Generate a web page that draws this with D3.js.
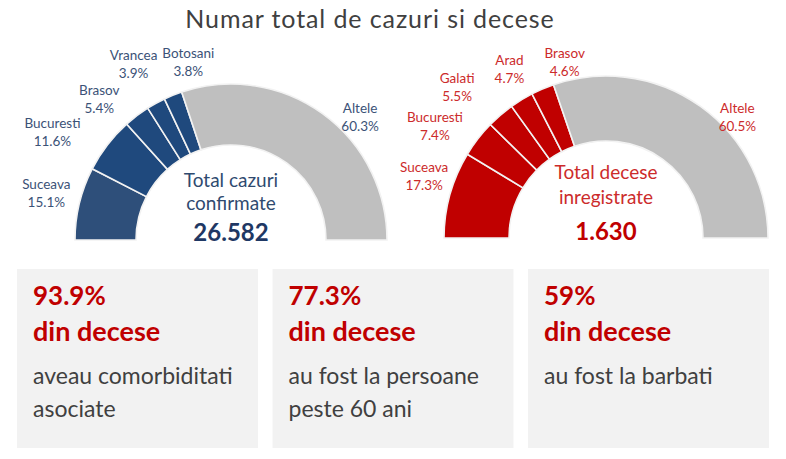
<!DOCTYPE html>
<html>
<head>
    <meta charset="utf-8">
    <script src="https://d3js.org/d3.v7.min.js"></script>
    <style>
        body {
            margin: 0;
            background: #fff;
            font-family: Lato, "Open Sans", sans-serif;
        }
    </style>
</head>
<body>
    <svg width="786" height="459"></svg>
    <script>
        // data
        const casesRegions = ["Suceava", "Bucuresti", "Brasov", "Vrancea", "Botosani", "Altele"];
        const casesShares = [15.1, 11.6, 5.4, 3.9, 3.8, 60.3];
        const deathsRegions = ["Suceava", "Bucuresti", "Galati", "Arad", "Brasov", "Altele"];
        const deathsShares = [17.3, 7.4, 5.5, 4.7, 4.6, 60.5];
        const totalCases = "26.582";
        const totalDeaths = "1.630";
        const factValues = ["93.9%", "77.3%", "59%"];
        const factTexts = [["aveau comorbiditati", "asociate"], ["au fost la persoane", "peste 60 ani"], ["au fost la barbati"]];

        const svg = d3.select("svg");

        svg.append("text")
            .attr("x", 370)
            .attr("y", 28)
            .attr("text-anchor", "middle")
            .style("font-size", "25px")
            .style("letter-spacing", "0.9px")
            .style("fill", "#404040")
            .text("Numar total de cazuri si decese");

        const pie = d3.pie()
            .sort(null)
            .value(d => d.value)
            .startAngle(-Math.PI / 2)
            .endAngle(Math.PI / 2);

        // label nudges (layout only), relative to the label arc centroid
        const casesNudge = [[0, -2], [-28, 8], [-17, 10], [-6, -9], [28, -2], [18, 31]];
        const deathsNudge = [[6, -10], [-17, 8], [-22, -3], [5, -3], [35, 3], [18, 38]];

        function halfDonut(opt) {
            const data = opt.regions.map((r, i) => ({ region: r, value: opt.shares[i] }));
            const g = svg.append("g")
                .attr("transform", `translate(${opt.cx},${opt.cy})`);

            const arc = d3.arc().innerRadius(opt.inner).outerRadius(opt.outer);
            const labelArc = d3.arc().innerRadius(opt.labelR).outerRadius(opt.labelR);
            const arcs = pie(data);

            g.selectAll("path")
                .data(arcs)
                .join("path")
                .attr("d", arc)
                .attr("fill", (d, i) => opt.fills[i])
                .attr("stroke", "#f2f2f2")
                .attr("stroke-width", 1.6);

            const lab = g.selectAll("text.lab")
                .data(arcs)
                .join("text")
                .attr("class", "lab")
                .attr("text-anchor", "middle")
                .attr("transform", (d, i) => {
                    const c = labelArc.centroid(d);
                    return `translate(${c[0] + opt.nudge[i][0]},${c[1] + opt.nudge[i][1]})`;
                })
                .style("font-size", "13.5px")
                .style("fill", opt.labelColor);
            lab.append("tspan").attr("x", 0).attr("y", -4).text(d => d.data.region);
            lab.append("tspan").attr("x", 0).attr("y", 14).text(d => d3.format(".1f")(d.data.value) + "%");

            g.append("text")
                .attr("text-anchor", "middle")
                .attr("y", opt.lineY[0])
                .style("font-size", "19px")
                .style("fill", opt.textColor)
                .text(opt.line1);
            g.append("text")
                .attr("text-anchor", "middle")
                .attr("y", opt.lineY[1])
                .style("font-size", "19px")
                .style("fill", opt.textColor)
                .text(opt.line2);
            g.append("text")
                .attr("text-anchor", "middle")
                .attr("y", opt.lineY[2])
                .style("font-size", "24px")
                .style("font-weight", "bold")
                .style("fill", opt.numColor)
                .text(opt.total);
        }

        halfDonut({
            regions: casesRegions, shares: casesShares,
            cx: 231, cy: 240, inner: 95, outer: 156, labelR: 190,
            fills: ["#2e4f7a", "#1f497d", "#1f497d", "#1f497d", "#1f497d", "#bfbfbf"],
            nudge: casesNudge, labelColor: "#3b5277",
            line1: "Total cazuri", line2: "confirmate", lineY: [-53, -30, 1],
            textColor: "#2f4a6f", numColor: "#1f3864", total: totalCases
        });

        halfDonut({
            regions: deathsRegions, shares: deathsShares,
            cx: 606, cy: 238, inner: 97, outer: 162, labelR: 195,
            fills: ["#c00000", "#c00000", "#c00000", "#c00000", "#c00000", "#bfbfbf"],
            nudge: deathsNudge, labelColor: "#cc2b2b",
            line1: "Total decese", line2: "inregistrate", lineY: [-59, -34, 2],
            textColor: "#cc2b2b", numColor: "#c00000", total: totalDeaths
        });

        // fact boxes
        const xBox = d3.scaleBand()
            .domain(factValues.map((d, i) => i))
            .range([17, 769])
            .paddingInner(0.057);

        const box = svg.append("g")
            .selectAll("g")
            .data(factValues)
            .join("g")
            .attr("transform", (d, i) => `translate(${xBox(i)},269)`);

        box.append("rect")
            .attr("width", xBox.bandwidth())
            .attr("height", 179)
            .attr("fill", "#f2f2f2");

        box.append("text")
            .attr("x", 16)
            .attr("y", 36)
            .style("font-size", "26px")
            .style("font-weight", "bold")
            .style("fill", "#c00000")
            .text(d => d);

        box.append("text")
            .attr("x", 16)
            .attr("y", 72)
            .style("font-size", "27px")
            .style("font-weight", "bold")
            .style("fill", "#c00000")
            .text("din decese");

        box.each(function (d, i) {
            d3.select(this).selectAll("text.body")
                .data(factTexts[i])
                .join("text")
                .attr("class", "body")
                .attr("x", 16)
                .attr("y", (t, j) => 115 + j * 33)
                .style("font-size", "23px")
                .style("fill", "#404040")
                .text(t => t);
        });
    </script>
</body>
</html>
